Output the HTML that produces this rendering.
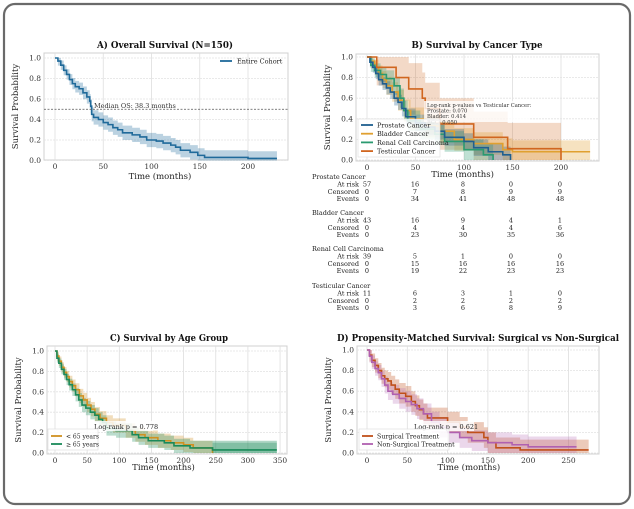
<!DOCTYPE html>
<html><head><meta charset="utf-8">
<style>
html,body{margin:0;padding:0;background:#fff;}
svg{display:block;font-family:"DejaVu Serif","Liberation Serif",serif;}
</style></head>
<body>
<svg id="s" width="634" height="509" viewBox="0 0 634 509" xmlns="http://www.w3.org/2000/svg">
<rect x="4" y="4" width="626" height="500" rx="11" fill="#fff" stroke="#6a6a6a" stroke-width="2.2"/>
</svg>
<script>
const S=document.getElementById('s');const NS='http://www.w3.org/2000/svg';
function el(t,a,txt){const e=document.createElementNS(NS,t);for(const k in a)e.setAttribute(k,a[k]);if(txt!=null)e.textContent=txt;S.appendChild(e);return e;}
function panel(p){
 const {L,R,T,B,x0,xs,y1,y0,xmax,xt,title,ty,xly,tw,tc}=p;
 const X=m=>x0+m*xs, Y=v=>y0+(y1-y0)*v;
 el('rect',{x:L,y:T,width:R-L,height:B-T,fill:'#fff',stroke:'#d0d0d0','stroke-width':1});
 for(const t of xt){el('line',{x1:X(t),x2:X(t),y1:T,y2:B,stroke:'#dedede','stroke-width':0.8});
  el('text',{x:X(t),y:B+9,'font-size':7.5,'text-anchor':'middle',fill:'#333'},t);}
 for(let i=0;i<=5;i++){const v=i*0.2;el('line',{x1:L,x2:R,y1:Y(v),y2:Y(v),stroke:'#e2e2e2','stroke-width':0.8,'stroke-dasharray':'2,1'});
  el('text',{x:L-3,y:Y(v)+2.5,'font-size':7.5,'text-anchor':'end',fill:'#333'},v.toFixed(1));}
 el('text',{x:tc,y:ty,'font-size':9.5,'font-weight':'bold','text-anchor':'middle',fill:'#111',textLength:tw,lengthAdjust:'spacingAndGlyphs'},title);
 el('text',{x:x0+(xmax*xs)/2+(p.xlo||0),y:xly,'font-size':8.5,'text-anchor':'middle',fill:'#222'},'Time (months)');
 const cy=(T+B)/2;el('text',{x:L-26,y:cy,'font-size':8.5,'text-anchor':'middle',fill:'#222',transform:`rotate(-90 ${L-26} ${cy})`},'Survival Probability');
 return {X,Y};
}
function step(pts,X,Y){let d=`M${X(pts[0][0])},${Y(pts[0][1])}`;for(let i=1;i<pts.length;i++){d+=`H${X(pts[i][0])}V${Y(pts[i][1])}`;}return d;}
function curve(pts,end,X,Y,col,w,band,bandOp){
 const P=pts.concat([[end,pts[pts.length-1][1]]]);
 const f=t=>band*(t==0?0:1)*(0.6+0.4*Math.min(1,t/40));
 const up=P.map(([t,v])=>[t,Math.min(1,v+f(t))]);
 const lo=P.map(([t,v])=>[t,Math.max(0,v-f(t))]);
 let d=`M${X(up[0][0])},${Y(up[0][1])}`;for(let i=1;i<up.length;i++)d+=`H${X(up[i][0])}V${Y(up[i][1])}`;
 let lr=lo.slice().reverse();d+=`V${Y(lr[0][1])}`;for(let i=1;i<lr.length;i++){d+=`H${X(lr[i-1][0])}V${Y(lr[i][1])}`;}
 d+=`H${X(lr[lr.length-1][0])}Z`;
 el('path',{d,fill:col,'fill-opacity':bandOp,stroke:'none'});
 return ()=>el('path',{d:step(P,X,Y),fill:'none',stroke:col,'stroke-width':w});
}
// Panel A
let a=panel({L:44,R:288,T:53,B:160,x0:55,xs:0.965,y1:58,y0:160.5,xmax:230,xt:[0,50,100,150,200],title:'A) Overall Survival (N=150)',ty:48,xly:179,xlo:-6,tw:136,tc:165});
let cA=[[0,1],[3,.97],[6,.93],[9,.88],[12,.84],[15,.79],[18,.75],[21,.72],[25,.7],[29,.66],[33,.62],[36,.58],[37,.53],[38,.45],[40,.42],[45,.4],[50,.37],[55,.35],[60,.32],[65,.3],[70,.27],[80,.25],[88,.23],[95,.2],[105,.19],[112,.17],[120,.15],[125,.13],[130,.1],[140,.08],[148,.05],[155,.03],[200,.03],[200,.02]];
curve(cA,230,a.X,a.Y,'#1f6a9a',1.6,.07,.3)();
el('line',{x1:44,x2:288,y1:a.Y(.5),y2:a.Y(.5),stroke:'#555','stroke-width':0.8,'stroke-dasharray':'2,1.5'});
el('text',{x:94,y:108,'font-size':6.5,fill:'#333'},'Median OS: 38.3 months');
el('line',{x1:220,x2:232,y1:61,y2:61,stroke:'#1f6a9a','stroke-width':1.8});
el('text',{x:237,y:63.5,'font-size':6.5,fill:'#222'},'Entire Cohort');
// Panel B
let b=panel({L:356,R:599,T:54,B:161,x0:367,xs:0.97,y1:57,y0:160,xmax:230,xt:[0,50,100,150,200],title:'B) Survival by Cancer Type',ty:48,xly:177,xlo:-16,tw:131,tc:477});
const cP=[[0,1],[3,.95],[6,.9],[9,.84],[12,.78],[16,.74],[20,.7],[24,.66],[28,.6],[32,.56],[36,.5],[40,.42],[50,.36],[60,.32],[70,.28],[80,.22],[100,.18],[110,.12],[125,.08],[140,.05],[148,0]];
const cBl=[[0,1],[4,.96],[8,.9],[12,.84],[16,.78],[20,.72],[26,.66],[32,.58],[38,.48],[45,.4],[60,.33],[75,.28],[90,.2],[110,.16],[140,.1],[150,.08]];
const cR=[[0,1],[4,.92],[8,.87],[14,.83],[20,.79],[28,.72],[34,.6],[38,.48],[42,.38],[55,.3],[70,.25],[80,.18],[100,.1],[120,.05],[130,0]];
const cT=[[0,1],[10,.9],[30,.8],[43,.69],[57,.6],[60,.5],[75,.35],[110,.22],[145,.11],[200,0]];
const fT=curve(cT,200,b.X,b.Y,'#d0661f',1.6,.25,.25);
const fB=curve(cBl,230,b.X,b.Y,'#e0a030',1.6,.11,.3);
const fR=curve(cR,130,b.X,b.Y,'#2a9a70',1.6,.1,.3);
const fP=curve(cP,148,b.X,b.Y,'#1f5f8f',1.6,.08,.3);
fB();fR();fP();fT();
el('rect',{x:424,y:101,width:105,height:21,fill:'#fff','fill-opacity':.8});
['Log-rank p-values vs Testicular Cancer:','Prostate: 0.070','Bladder: 0.414','RCC: 0.050'].forEach((t,i)=>el('text',{x:427,y:107+i*5.6,'font-size':5.2,fill:'#333'},t));
el('rect',{x:358,y:119,width:82,height:38,fill:'#fff','fill-opacity':.85,stroke:'#ddd','stroke-width':.6});
[['Prostate Cancer','#1f5f8f'],['Bladder Cancer','#e0a030'],['Renal Cell Carcinoma','#2a9a70'],['Testicular Cancer','#d0661f']].forEach(([t,c],i)=>{const y=125+i*8.7;el('line',{x1:361,x2:373,y1:y,y2:y,stroke:c,'stroke-width':1.8});el('text',{x:377,y:y+2.5,'font-size':6.5,fill:'#222'},t);});
// risk table
const cols=[367,415,463,511,560];
const tbl=[['Prostate Cancer',[57,16,8,0,0],[0,7,8,9,9],[0,34,41,48,48]],['Bladder Cancer',[43,16,9,4,1],[0,4,4,4,6],[0,23,30,35,36]],['Renal Cell Carcinoma',[39,5,1,0,0],[0,15,16,16,16],[0,19,22,23,23]],['Testicular Cancer',[11,6,3,1,0],[0,2,2,2,2],[0,3,6,8,9]]];
tbl.forEach((g,gi)=>{const y0=[179,215,251,288][gi];
 el('text',{x:312,y:y0,'font-size':6.5,'text-anchor':'start',fill:'#222'},g[0]);
 ['At risk','Censored','Events'].forEach((lab,ri)=>{const y=y0+7.4*(ri+1);el('text',{x:359,y,'font-size':6.5,'text-anchor':'end',fill:'#222'},lab);
  g[ri+1].forEach((v,ci)=>el('text',{x:cols[ci],y,'font-size':6.5,'text-anchor':'middle',fill:'#222'},v));});});
// Panel C
let c=panel({L:47,R:287,T:346,B:454,x0:55,xs:0.643,y1:351,y0:453,xmax:350,xt:[0,50,100,150,200,250,300,350],title:'C) Survival by Age Group',ty:341,xly:470,xlo:-4,tw:118,tc:169});
const cY=[[0,1],[3,.95],[6,.9],[10,.84],[14,.79],[18,.75],[22,.7],[27,.66],[32,.62],[38,.56],[44,.52],[50,.47],[56,.43],[62,.38],[70,.34],[80,.3],[90,.27],[110,.22],[125,.18],[140,.15],[160,.12],[180,.1],[200,.08],[215,.05],[245,0]];
const cO=[[0,1],[3,.93],[6,.88],[10,.82],[14,.77],[18,.72],[22,.67],[27,.62],[32,.57],[37,.52],[42,.47],[48,.44],[55,.4],[62,.37],[68,.33],[74,.3],[80,.24],[95,.22],[120,.18],[130,.15],[145,.12],[170,.1],[185,.07],[210,.05],[245,.03]];
const f1=curve(cY,245,c.X,c.Y,'#d09020',1.6,.07,.3);
const f2=curve(cO,345,c.X,c.Y,'#1a8a5a',1.6,.07,.3);
f1();f2();
el('path',{d:`M${c.X(245)},${c.Y(.12)}H${c.X(345)}V${c.Y(0)}H${c.X(245)}Z`,fill:'#1a8a5a','fill-opacity':.35});
el('rect',{x:89,y:421,width:64,height:10,fill:'#fff','fill-opacity':.85});
el('text',{x:94,y:429,'font-size':6.5,fill:'#222'},'Log-rank p = 0.778');
el('rect',{x:48,y:429,width:50,height:21,fill:'#fff','fill-opacity':.85,stroke:'#ddd','stroke-width':.6});
[['< 65 years','#d09020'],['≥ 65 years','#1a8a5a']].forEach(([t,cc],i)=>{const y=436+i*8;el('line',{x1:51,x2:62,y1:y,y2:y,stroke:cc,'stroke-width':1.8});el('text',{x:66,y:y+2.5,'font-size':6,fill:'#222'},t);});
// Panel D
let d=panel({L:357,R:599,T:346,B:454,x0:367,xs:0.806,y1:350,y0:453,xmax:275,xt:[0,50,100,150,200,250],title:'D) Propensity-Matched Survival: Surgical vs Non-Surgical',ty:341,xly:470,xlo:-9,tw:282,tc:478});
const cS=[[0,1],[3,.95],[6,.9],[10,.85],[14,.8],[18,.75],[22,.72],[26,.7],[30,.66],[35,.62],[40,.58],[48,.55],[55,.5],[60,.46],[65,.42],[70,.38],[75,.34],[100,.3],[115,.25],[125,.2],[145,.15],[150,.1],[160,.05],[190,.03]];
const cN=[[0,1],[3,.94],[6,.88],[10,.82],[14,.78],[18,.72],[22,.66],[26,.6],[32,.57],[40,.53],[48,.5],[55,.47],[62,.43],[70,.38],[80,.3],[90,.25],[100,.2],[115,.15],[130,.12],[150,.1],[180,.08],[200,.06]];
const fs=curve(cS,275,d.X,d.Y,'#c0501a',1.6,.1,.3);
const fn=curve(cN,260,d.X,d.Y,'#b060b0',1.6,.1,.25);
fs();fn();
el('rect',{x:410,y:421,width:64,height:10,fill:'#fff','fill-opacity':.85});
el('text',{x:414,y:429,'font-size':6.5,fill:'#222'},'Log-rank p = 0.621');
el('rect',{x:359,y:429,width:90,height:21,fill:'#fff','fill-opacity':.85,stroke:'#ddd','stroke-width':.6});
[['Surgical Treatment','#c0501a'],['Non-Surgical Treatment','#b060b0']].forEach(([t,cc],i)=>{const y=436+i*8;el('line',{x1:362,x2:373,y1:y,y2:y,stroke:cc,'stroke-width':1.8});el('text',{x:377,y:y+2.5,'font-size':6.3,fill:'#222'},t);});
</script>
</body></html>
